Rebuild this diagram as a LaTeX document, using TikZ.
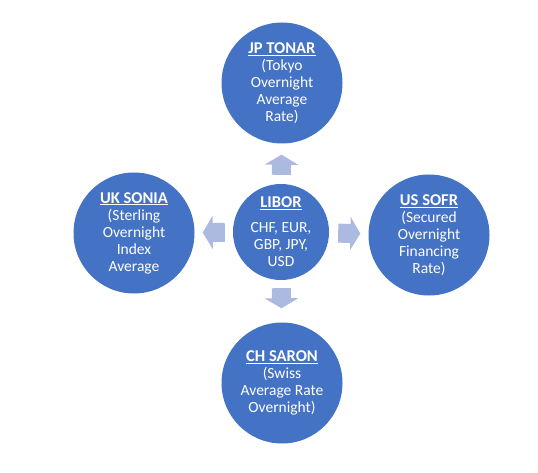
\documentclass[tikz,border=0pt]{standalone}
\usepackage{fontspec}
\setmainfont{Carlito}
\usetikzlibrary{arrows.meta}
\definecolor{rateblue}{RGB}{68,114,196}
\definecolor{arrowblue}{RGB}{172,185,224}
\newcommand{\ratetitle}[1]{{\fontsize{16.5}{17}\selectfont\underline{\textbf{#1}}}}

\begin{document}
\begin{tikzpicture}[x=1pt,y=-1pt,
    rate/.style={circle,fill=rateblue,text=white,align=center,inner sep=0pt,
      minimum size=121pt,font=\fontsize{15.5}{17}\selectfont},
    blockarrow/.style={draw=arrowblue,line width=19pt,
      -{Triangle[length=10pt,width=33pt]}}]
  \useasboundingbox (0,0) rectangle (538,473);

  % rate circles
  \node[rate,minimum size=96pt] (libor) at (281,232)
    {\ratetitle{LIBOR}\\[8pt]CHF, EUR,\\GBP, JPY,\\USD};
  \node[rate] (tonar) at (282,83)
    {\ratetitle{JP TONAR}\\(Tokyo\\Overnight\\Average\\Rate)};
  \node[rate] (sonia) at (134,233)
    {\ratetitle{UK SONIA}\\(Sterling\\Overnight\\Index\\Average};
  \node[rate] (sofr) at (429,235)
    {\ratetitle{US SOFR}\\(Secured\\Overnight\\Financing\\Rate)};
  \node[rate] (saron) at (282,383)
    {\ratetitle{CH SARON}\\(Swiss\\Average Rate\\Overnight)};

  % arrows
  \draw[blockarrow,shorten <=9pt,shorten >=11pt] (libor) -- (tonar);
  \draw[blockarrow,shorten <=8pt,shorten >=8pt] (libor) -- (sonia);
  \draw[blockarrow,shorten <=9pt,shorten >=8pt] (libor) -- (sofr);
  \draw[blockarrow,shorten <=8pt,shorten >=14pt] (libor) -- (saron);
\end{tikzpicture}
\end{document}
